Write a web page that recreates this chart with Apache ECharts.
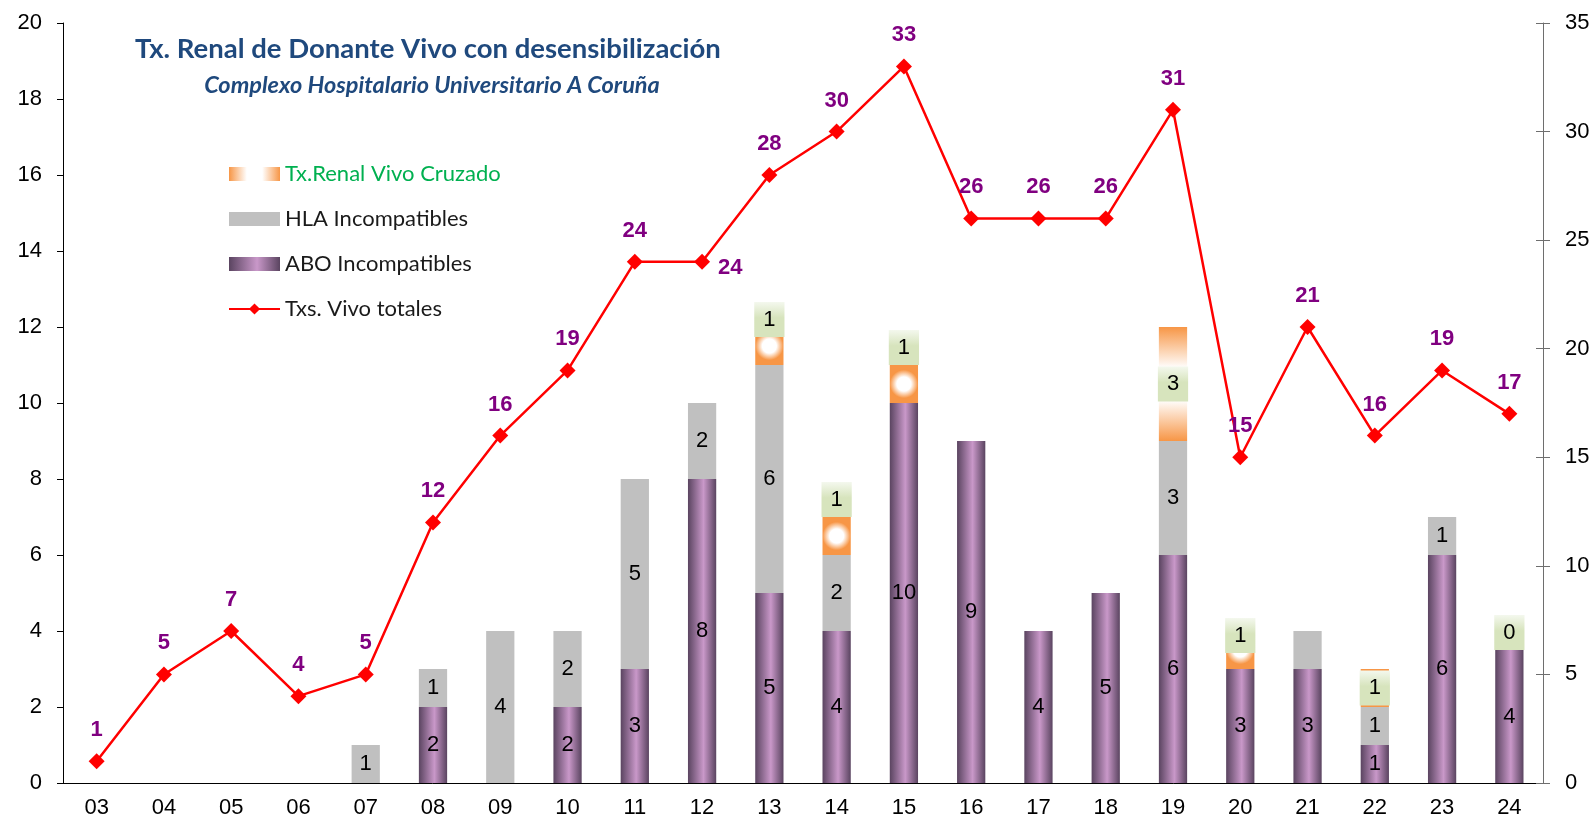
<!DOCTYPE html>
<html>
<head>
<meta charset="utf-8">
<script src="https://cdn.jsdelivr.net/npm/echarts@6/dist/echarts.min.js"></script>
<style>
  html, body { margin: 0; padding: 0; background: #fff; }
  #main { width: 1596px; height: 824px; }
</style>
</head>
<body>
<div id="main"></div>
<script>
// años (eje x)
const years = ['03','04','05','06','07','08','09','10','11','12','13','14','15','16','17','18','19','20','21','22','23','24'];
// ABO incompatibles
const abo = [0,0,0,0,0,2,0,2,3,8,5,4,10,9,4,5,6,3,3,1,6,3.5];
// HLA incompatibles
const hla = [0,0,0,0,1,1,4,2,5,2,6,2,0,0,0,0,3,0,1,1,1,0];
// Tx renal vivo cruzado
const cruz = [null,null,null,null,null,null,null,null,null,null,1,1,1,null,null,null,3,1,null,1,null,0];
// total trasplantes vivo (eje derecho)
const totals = [1,5,7,4,5,12,16,19,24,24,28,30,33,26,26,26,31,15,21,16,19,17];

const leftTicks = { min: 0, max: 20, interval: 2 };
const rightTicks = { min: 0, max: 35, interval: 5 };

const FONT = "'Liberation Sans', Arial, sans-serif";
const myChart = echarts.init(document.getElementById('main'));

const aboColor = new echarts.graphic.LinearGradient(0, 0, 1, 0, [
  { offset: 0, color: '#5a4460' },
  { offset: 0.55, color: '#c998c9' },
  { offset: 1, color: '#5a4460' }
]);
const cruzColor = new echarts.graphic.RadialGradient(0.5, 0.5, 0.5, [
  { offset: 0, color: '#ffffff' },
  { offset: 0.5, color: '#ffffff' },
  { offset: 1, color: '#f79646' }
]);
// segmentos altos: degradado vertical
const cruzTall = new echarts.graphic.LinearGradient(0, 0, 0, 1, [
  { offset: 0, color: '#f79646' },
  { offset: 0.36, color: '#ffffff' },
  { offset: 0.64, color: '#ffffff' },
  { offset: 1, color: '#f79646' }
]);
const cruzLegend = new echarts.graphic.LinearGradient(0, 0, 1, 0, [
  { offset: 0, color: '#f79646' },
  { offset: 0.35, color: '#ffffff' },
  { offset: 0.65, color: '#ffffff' },
  { offset: 1, color: '#f79646' }
]);
const boxColor = new echarts.graphic.LinearGradient(0, 0, 0, 1, [
  { offset: 0, color: '#f4f8ee' },
  { offset: 0.45, color: '#d7e4bd' },
  { offset: 1, color: '#d7e4bd' }
]);

// etiquetas especiales
const hlaHide = ['21'];
const cruzInside = ['19', '22'];
const cruzShift = { '13': -10, '20': -22 };

const cruzData = cruz.map((v, i) => {
  if (v === null) return '-';
  const y = years[i];
  const item = { value: v };
  if (v > 1) item.itemStyle = { color: cruzTall };
  if (cruzInside.includes(y)) item.label = { position: 'inside' };
  else item.label = { position: 'top', distance: cruzShift[y] || 0 };
  return item;
});

const totalData = totals.map((v, i) => {
  if (years[i] === '12') return { value: v, label: { position: 'right', distance: 8, offset: [0, 6] } };
  return v;
});

const option = {
  animation: false,
  title: [
    {
      text: 'Tx. Renal de Donante Vivo con desensibilización',
      left: 423, top: 30, textAlign: 'center',
      textStyle: { fontFamily: 'Lato', fontWeight: 'bold', fontSize: 27.5, color: '#1f497d' }
    },
    {
      text: 'Complexo Hospitalario Universitario A Coruña',
      left: 427, top: 69, textAlign: 'center',
      textStyle: { fontFamily: 'Lato', fontWeight: 'bold', fontStyle: 'italic', fontSize: 23.5, color: '#1f497d' }
    }
  ],
  legend: {
    orient: 'vertical',
    left: 223, top: 158,
    itemWidth: 51, itemHeight: 14,
    itemGap: 23,
    textStyle: { fontFamily: 'Lato', fontSize: 22, color: '#1a1a1a' },
    data: [
      { name: 'Tx.Renal Vivo Cruzado', icon: 'rect', itemStyle: { color: cruzLegend }, textStyle: { color: '#00b050' } },
      { name: 'HLA Incompatibles', icon: 'rect' },
      { name: 'ABO Incompatibles', icon: 'rect', itemStyle: { color: aboColor } },
      { name: 'Txs. Vivo totales' }
    ]
  },
  grid: { left: 63, right: 53, top: 23, bottom: 41, outerBoundsMode: 'none' },
  xAxis: {
    type: 'category',
    data: years,
    axisLine: { lineStyle: { color: '#000', width: 1 } },
    axisTick: { length: 6, lineStyle: { color: '#000' } },
    axisLabel: { fontFamily: FONT, fontSize: 22, color: '#000', margin: 14 }
  },
  yAxis: [
    {
      type: 'value', position: 'left', ...leftTicks,
      splitLine: { show: false },
      axisLine: { show: true, lineStyle: { color: '#000' } },
      axisTick: { show: true, length: 6, lineStyle: { color: '#000' } },
      axisLabel: { fontFamily: FONT, fontSize: 22, color: '#000', margin: 21 }
    },
    {
      type: 'value', position: 'right', ...rightTicks,
      splitLine: { show: false },
      axisLine: { show: true, lineStyle: { color: '#6e6e6e' } },
      axisTick: { show: true, length: 7, lineStyle: { color: '#6e6e6e' } },
      axisLabel: { fontFamily: FONT, fontSize: 22, color: '#000', margin: 22 }
    },
    {
      type: 'value', position: 'right', ...rightTicks,
      splitLine: { show: false },
      axisLine: { show: false },
      axisTick: { show: true, inside: true, length: 7, lineStyle: { color: '#6e6e6e' } },
      axisLabel: { show: false }
    }
  ],
  series: [
    {
      name: 'ABO Incompatibles', type: 'bar', stack: 'tx', yAxisIndex: 0,
      barWidth: '42%',
      itemStyle: { color: aboColor },
      label: {
        show: true, position: 'inside', fontFamily: FONT, fontSize: 22, color: '#000',
        formatter: p => (p.value > 0 ? String(Math.round(p.value)) : '')
      },
      data: abo
    },
    {
      name: 'HLA Incompatibles', type: 'bar', stack: 'tx', yAxisIndex: 0,
      barWidth: '42%',
      itemStyle: { color: '#c0c0c0' },
      label: {
        show: true, position: 'inside', fontFamily: FONT, fontSize: 22, color: '#000',
        formatter: p => (p.value > 0 && !hlaHide.includes(p.name) ? String(p.value) : '')
      },
      data: hla
    },
    {
      name: 'Tx.Renal Vivo Cruzado', type: 'bar', stack: 'tx', yAxisIndex: 0,
      barWidth: '42%',
      itemStyle: { color: cruzColor },
      label: {
        show: true, fontFamily: FONT, fontSize: 22, color: '#000',
        backgroundColor: boxColor, padding: [7, 9, 6, 9],
        formatter: p => String(p.value)
      },
      data: cruzData
    },
    {
      name: 'Txs. Vivo totales', type: 'line', yAxisIndex: 1,
      symbol: 'diamond', symbolSize: 16,
      itemStyle: { color: '#ff0000' },
      lineStyle: { color: '#ff0000', width: 2.5 },
      label: {
        show: true, position: 'top', distance: 12,
        fontFamily: FONT, fontWeight: 'bold', fontSize: 22, color: '#800080'
      },
      z: 5,
      data: totalData
    }
  ]
};

myChart.setOption(option);
</script>
</body>
</html>
